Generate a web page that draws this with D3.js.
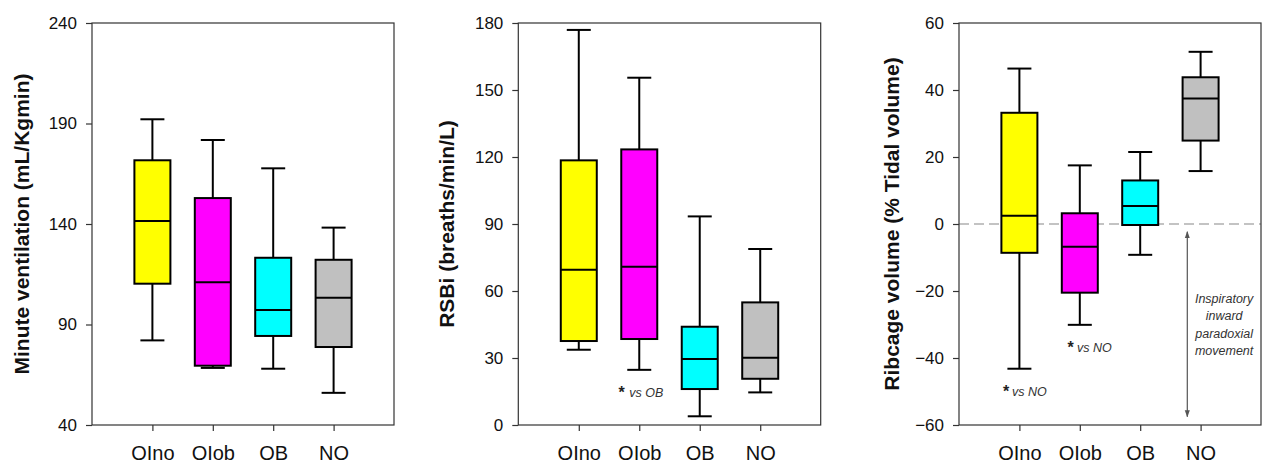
<!DOCTYPE html>
<html><head><meta charset="utf-8">
<script src="https://cdn.jsdelivr.net/npm/d3@7"></script>
<style>
body{margin:0;background:#fff}
svg{display:block;background:#fff}
text{font-family:Arial,"Liberation Sans",sans-serif}
</style>
</head><body>
<svg id="c" width="1263" height="463"></svg>
<script>
// ---------- data ----------
const categories = ["OIno", "OIob", "OB", "NO"];
const boxColors = ["#ffff00", "#ff00ff", "#00ffff", "#c0c0c0"];

// Panel 1: Minute ventilation (mL/Kgmin)
const mvTicks = [40, 90, 140, 190, 240];
const mvHigh   = [192.1, 181.8, 167.7, 138.2];
const mvQ3     = [171.7, 152.9, 123.2, 122.2];
const mvMedian = [141.5, 111.0, 97.2, 103.3];
const mvQ1     = [110.3, 69.5, 84.3, 78.8];
const mvLow    = [82.1, 68.4, 68.0, 56.0];

// Panel 2: RSBi (breaths/min/L)
const rsbiTicks = [0, 30, 60, 90, 120, 150, 180];
const rsbiHigh   = [176.9, 155.5, 93.4, 78.8];
const rsbiQ3     = [118.5, 123.4, 44.0, 54.9];
const rsbiMedian = [69.5, 70.9, 29.5, 30.1];
const rsbiQ1     = [37.6, 38.5, 16.1, 20.7];
const rsbiLow    = [33.7, 24.7, 3.9, 14.6];

// Panel 3: Ribcage volume (% Tidal volume)
const ribTicks = [-60, -40, -20, 0, 20, 40, 60];
const ribHigh   = [46.4, 17.5, 21.5, 51.4];
const ribQ3     = [33.2, 3.2, 13.0, 43.8];
const ribMedian = [2.5, -6.8, 5.4, 37.5];
const ribQ1     = [-8.6, -20.5, -0.3, 24.9];
const ribLow    = [-43.2, -30.1, -9.2, 15.8];

// annotations (category, value at text baseline, label)
const rsbiNotes = [{cat: "OIob", value: 12.7, label: "vs OB"}];
const ribNotes  = [{cat: "OIno", value: -51.3, label: "vs NO"},
                   {cat: "OIob", value: -38.1, label: "vs NO"}];
const ribArrowFrom = -2.3, ribArrowTo = -57.5;
const ribNoteLines = ["Inspiratory", "inward", "paradoxial", "movement"];
const ribNoteTop = -23.5; // value at first line baseline

// ---------- layout ----------
const plotTop = 23, plotBottom = 425;
const boxW = 36, capW = 24;
const noteDx = {rsbi: [[-17.6, -10]], rib: [[-13.3, -7.3], [-9.3, -2.7]]};

const panels = [
  {key: "mv", left: 92, right: 394, domain: [40, 240], ticks: mvTicks,
   title: "Minute ventilation (mL/Kgmin)", titleX: 22,
   high: mvHigh, q3: mvQ3, med: mvMedian, q1: mvQ1, low: mvLow},
  {key: "rsbi", left: 518.3, right: 820.7, domain: [0, 180], ticks: rsbiTicks,
   title: "RSBi (breaths/min/L)", titleX: 447,
   high: rsbiHigh, q3: rsbiQ3, med: rsbiMedian, q1: rsbiQ1, low: rsbiLow, notes: rsbiNotes},
  {key: "rib", left: 959, right: 1261, domain: [-60, 60], ticks: ribTicks,
   title: "Ribcage volume (% Tidal volume)", titleX: 892,
   high: ribHigh, q3: ribQ3, med: ribMedian, q1: ribQ1, low: ribLow, notes: ribNotes}
];

const svg = d3.select("#c");
const frameColor = "#333";

panels.forEach(p => {
  const g = svg.append("g");
  const x = d3.scalePoint().domain(categories).range([p.left, p.right]).padding(1);
  const y = d3.scaleLinear().domain(p.domain).range([plotBottom, plotTop]);

  // zero reference line (panel 3)
  if (p.key === "rib") {
    g.append("line")
      .attr("x1", p.left).attr("x2", p.right)
      .attr("y1", y(0)).attr("y2", y(0))
      .attr("stroke", "#888").attr("stroke-width", 1.1)
      .attr("stroke-dasharray", "10,5");
  }

  // frame
  g.append("rect")
    .attr("x", p.left).attr("y", plotTop)
    .attr("width", p.right - p.left).attr("height", plotBottom - plotTop)
    .attr("fill", "none").attr("stroke", frameColor).attr("stroke-width", 1.2);

  // axes
  const ya = g.append("g").attr("transform", `translate(${p.left},0)`)
    .call(d3.axisLeft(y).tickValues(p.ticks).tickSize(6).tickSizeOuter(0).tickPadding(9));
  ya.select(".domain").remove();
  ya.selectAll(".tick line").attr("stroke", frameColor).attr("stroke-width", 1.2);
  ya.selectAll(".tick text").attr("font-size", 17).attr("fill", "#111")
    .attr("font-family", 'Arial,"Liberation Sans",sans-serif');

  const xa = g.append("g").attr("transform", `translate(0,${plotBottom})`)
    .call(d3.axisBottom(x).tickSize(6).tickSizeOuter(0).tickPadding(15));
  xa.select(".domain").remove();
  xa.selectAll(".tick line").attr("stroke", frameColor).attr("stroke-width", 1.2);
  xa.selectAll(".tick text").attr("font-size", 20).attr("fill", "#111")
    .attr("font-family", 'Arial,"Liberation Sans",sans-serif');

  // title
  g.append("text")
    .attr("transform", `translate(${p.titleX},${(plotTop + plotBottom) / 2}) rotate(-90)`)
    .attr("text-anchor", "middle").attr("dy", "0.35em")
    .attr("font-size", 21).attr("font-weight", "bold").attr("fill", "#111")
    .text(p.title);

  // boxes
  categories.forEach((c, i) => {
    const cx = x(c);
    const bg = g.append("g").attr("stroke", "#000").attr("stroke-width", 2);
    bg.append("line").attr("x1", cx).attr("x2", cx).attr("y1", y(p.high[i])).attr("y2", y(p.q3[i]));
    bg.append("line").attr("x1", cx).attr("x2", cx).attr("y1", y(p.q1[i])).attr("y2", y(p.low[i]));
    bg.append("line").attr("x1", cx - capW / 2).attr("x2", cx + capW / 2).attr("y1", y(p.high[i])).attr("y2", y(p.high[i]));
    bg.append("line").attr("x1", cx - capW / 2).attr("x2", cx + capW / 2).attr("y1", y(p.low[i])).attr("y2", y(p.low[i]));
    bg.append("rect").attr("x", cx - boxW / 2).attr("y", y(p.q3[i]))
      .attr("width", boxW).attr("height", y(p.q1[i]) - y(p.q3[i]))
      .attr("fill", boxColors[i]);
    bg.append("line").attr("x1", cx - boxW / 2).attr("x2", cx + boxW / 2)
      .attr("y1", y(p.med[i])).attr("y2", y(p.med[i]));
  });

  // significance notes
  (p.notes || []).forEach((n, k) => {
    const [ax, tx] = noteDx[p.key][k];
    const cx = x(n.cat);
    g.append("text").attr("x", cx + ax).attr("y", y(n.value) + 1)
      .attr("text-anchor", "middle").attr("font-size", 16).attr("font-weight", "bold")
      .attr("fill", "#222").text("*");
    g.append("text").attr("x", cx + tx).attr("y", y(n.value))
      .attr("font-size", 12.5).attr("font-style", "italic").attr("fill", "#333")
      .text(n.label);
  });

  if (p.key === "rib") {
    const ax = x("NO") - 13.3;
    const defs = svg.append("defs");
    defs.append("marker").attr("id", "ah").attr("viewBox", "0 0 10 10")
      .attr("refX", 9).attr("refY", 5).attr("markerWidth", 6).attr("markerHeight", 6)
      .attr("orient", "auto-start-reverse")
      .append("path").attr("d", "M0,1.5 L10,5 L0,8.5 Z").attr("fill", "#555");
    g.append("line").attr("x1", ax).attr("x2", ax)
      .attr("y1", y(ribArrowFrom)).attr("y2", y(ribArrowTo))
      .attr("stroke", "#555").attr("stroke-width", 1.2)
      .attr("marker-start", "url(#ah)").attr("marker-end", "url(#ah)");
    const t = g.append("text").attr("text-anchor", "middle")
      .attr("font-size", 12.5).attr("font-style", "italic").attr("fill", "#333");
    ribNoteLines.forEach((s, k) => {
      t.append("tspan").attr("x", x("NO") + 23.5)
        .attr("y", y(ribNoteTop) + k * 17.5).text(s);
    });
  }
});
</script>
</body></html>
